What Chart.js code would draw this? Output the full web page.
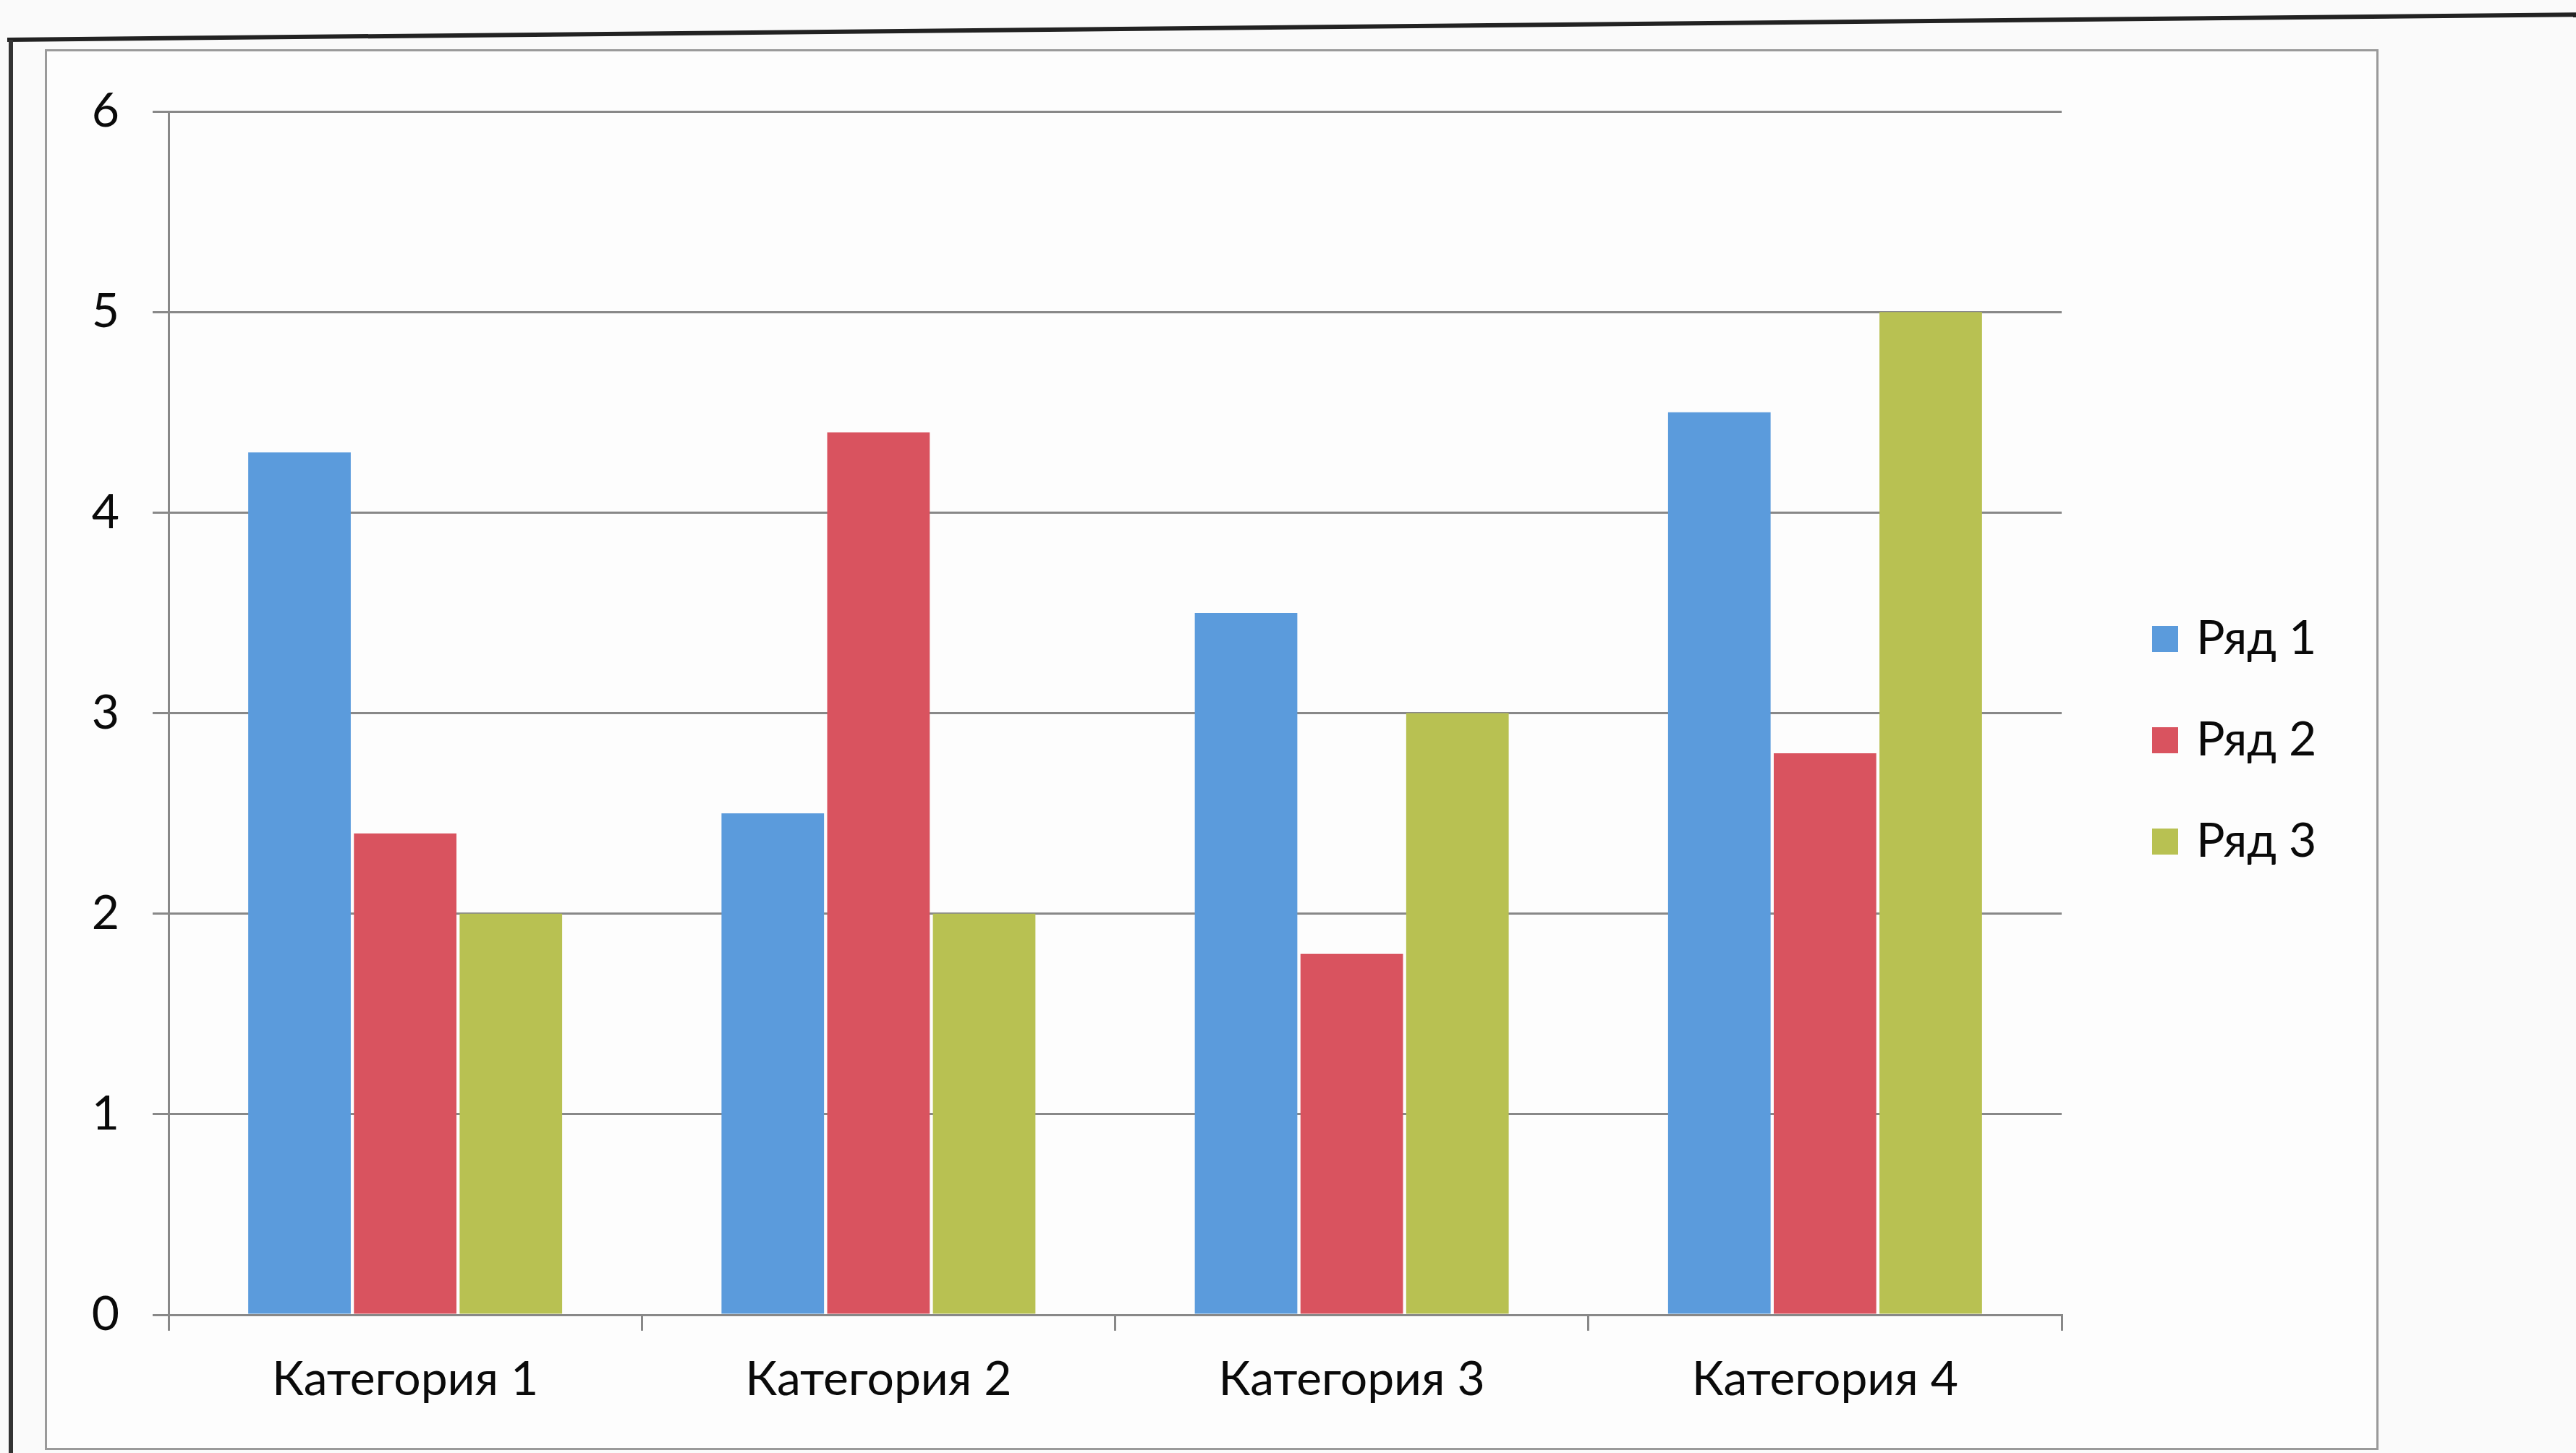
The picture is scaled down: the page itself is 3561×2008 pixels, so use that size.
<!DOCTYPE html>
<html>
<head>
<meta charset="utf-8">
<script src="https://cdn.jsdelivr.net/npm/chart.js@4/dist/chart.umd.min.js"></script>
<style>
  html, body { margin: 0; padding: 0; background: #fafafa; overflow: hidden; }
  #wrap { position: relative; width: 3561px; height: 2008px; }
  #outerTop { position: absolute; left: 10px; top: 52px; width: 3600px; height: 6px; background: #222;
              transform-origin: 0 0; transform: rotate(-0.56deg); }
  #outerLeft { position: absolute; left: 12px; top: 55px; width: 6px; height: 1960px; background: #333; }
  #frame { position: absolute; left: 62px; top: 68px; width: 3226px; height: 1936px;
           border: 3px solid #9a9a9a; background: #fdfdfd; box-sizing: border-box; }
  canvas { position: absolute; left: 0; top: 0; }
</style>
</head>
<body>
<div id="wrap">
  <div id="outerTop"></div>
  <div id="outerLeft"></div>
  <div id="frame"></div>
  <canvas id="chart" width="3561" height="2008"></canvas>
</div>
<script>
const categories = ['Категория 1', 'Категория 2', 'Категория 3', 'Категория 4'];
const seriesNames = ['Ряд 1', 'Ряд 2', 'Ряд 3'];
const row1 = [4.3, 2.5, 3.5, 4.5];
const row2 = [2.4, 4.4, 1.8, 2.8];
const row3 = [2, 2, 3, 5];
const yTicks = [0, 1, 2, 3, 4, 5, 6];

const colors = ['#5b9bdc', '#d9535f', '#b8c152'];
const fontFamily = 'Lato, "Open Sans", sans-serif';
const textColor = '#0a0a0a';
const lineColor = '#888';

// legend on the right, drawn next to the plot
const sideLegend = {
    id: 'sideLegend',
    afterDraw(chart) {
        const ctx = chart.ctx;
        const area = chart.chartArea;
        const x = area.right + 125;
        const y0 = area.top + 729;
        const step = 140;
        ctx.save();
        ctx.font = '66px ' + fontFamily;
        ctx.textBaseline = 'middle';
        chart.data.datasets.forEach((ds, i) => {
            const y = y0 + i * step;
            ctx.fillStyle = ds.backgroundColor;
            ctx.fillRect(x, y - 18, 36, 36);
            ctx.fillStyle = textColor;
            ctx.fillText(ds.label, x + 61, y);
        });
        ctx.restore();
    }
};

const data = {
    labels: categories,
    datasets: [row1, row2, row3].map((values, i) => ({
        label: seriesNames[i],
        data: values,
        backgroundColor: colors[i],
        categoryPercentage: 0.67,
        barPercentage: 0.97
    }))
};

new Chart(document.getElementById('chart'), {
    type: 'bar',
    data: data,
    plugins: [sideLegend],
    options: {
        responsive: false,
        animation: false,
        devicePixelRatio: 1,
        layout: { padding: { left: 100, right: 711, top: 154, bottom: 41 } },
        plugins: {
            legend: { display: false },
            tooltip: { enabled: false }
        },
        scales: {
            x: {
                afterFit: s => { s.height = 150; },
                grid: { drawOnChartArea: false, drawTicks: true, tickLength: 22, color: lineColor, lineWidth: 3 },
                border: { color: lineColor, width: 3 },
                ticks: { color: textColor, font: { family: fontFamily, size: 66 }, padding: 28 }
            },
            y: {
                min: 0,
                max: 6,
                afterFit: s => { s.width = 133; },
                afterBuildTicks: s => { s.ticks = yTicks.map(v => ({ value: v })); },
                grid: { color: lineColor, lineWidth: 3, tickLength: 22 },
                border: { color: lineColor, width: 3 },
                ticks: { color: textColor, font: { family: fontFamily, size: 66 }, padding: 46 }
            }
        }
    }
});
</script>
</body>
</html>
